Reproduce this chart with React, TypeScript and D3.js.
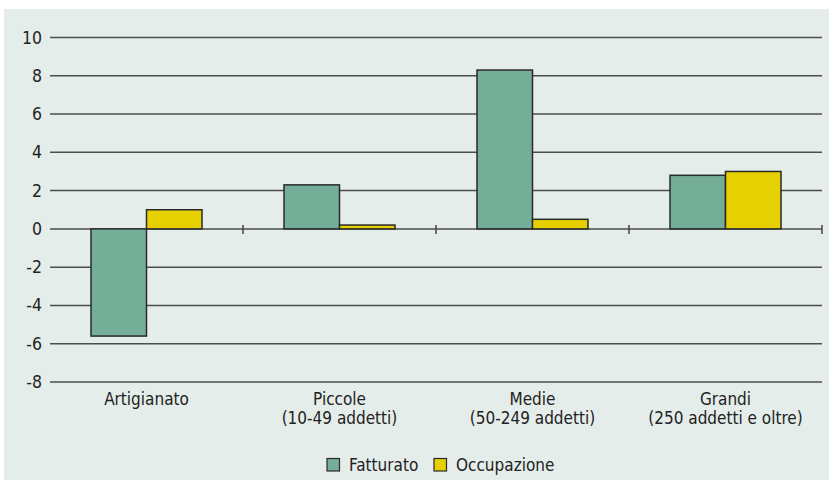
import React from "react";
import * as d3 from "d3";

const categories = [
  ["Artigianato"],
  ["Piccole", "(10-49 addetti)"],
  ["Medie", "(50-249 addetti)"],
  ["Grandi", "(250 addetti e oltre)"],
];
const seriesNames = ["Fatturato", "Occupazione"];
const fatturato = [-5.6, 2.3, 8.3, 2.8];
const occupazione = [1.0, 0.2, 0.5, 3.0];
const yTicks = [10, 8, 6, 4, 2, 0, -2, -4, -6, -8];
const colors = ["#74ad98", "#e6d000"];

const W = 829;
const H = 481;
const FONT = "'DejaVu Sans Condensed', 'Liberation Sans', sans-serif";

export default function App() {
  const x0 = d3.scaleBand<number>().domain(d3.range(categories.length)).range([50, 822]);
  const x1 = d3.scaleBand<number>().domain([0, 1]).range([41, 152]);
  const y = d3.scaleLinear().domain([-8, 10]).range([382, 37.5]);
  const series = [fatturato, occupazione];

  return (
    <div style={{ position: "absolute", left: 0, top: 0 }}>
      <svg width={W} height={H} style={{ display: "block" }} fontFamily={FONT}>
        <rect x={4} y={9} width={825} height={471} fill="#e5edea" />
        {yTicks.map((t) => (
          <g key={t}>
            <line x1={50} x2={822} y1={y(t)} y2={y(t)} stroke="#4d4d4d" strokeWidth={1.5} />
            <text x={42} y={y(t) + 6} textAnchor="end" fontSize={17.5} fill="#222">
              {t}
            </text>
          </g>
        ))}
        {d3.range(1, categories.length + 1).map((i) => {
          const xx = i < categories.length ? x0(i)! : 822;
          return <line key={i} x1={xx} x2={xx} y1={y(0) - 4} y2={y(0) + 5} stroke="#444" strokeWidth={1.5} />;
        })}
        {categories.map((c, i) =>
          series.map((s, k) => {
            const v = s[i];
            const bx = x0(i)! + x1(k)!;
            return (
              <rect
                key={`${i}-${k}`}
                x={bx}
                y={y(Math.max(0, v))}
                width={x1.bandwidth()}
                height={Math.abs(y(v) - y(0))}
                fill={colors[k]}
                stroke="#2a2a2a"
                strokeWidth={1.5}
              />
            );
          })
        )}
        {categories.map((c, i) => (
          <text key={i} textAnchor="middle" fontSize={17} fill="#222">
            {c.map((line, j) => (
              <tspan key={j} x={x0(i)! + x0.bandwidth() / 2} y={405 + j * 19}>
                {line}
              </tspan>
            ))}
          </text>
        ))}
        {seriesNames.map((n, k) => {
          const lx = [327, 434][k];
          return (
            <g key={n}>
              <rect x={lx} y={458.5} width={12.5} height={12.5} fill={colors[k]} stroke="#2a2a2a" strokeWidth={1.2} />
              <text x={lx + 22} y={471} fontSize={17} fill="#222">
                {n}
              </text>
            </g>
          );
        })}
      </svg>
    </div>
  );
}
